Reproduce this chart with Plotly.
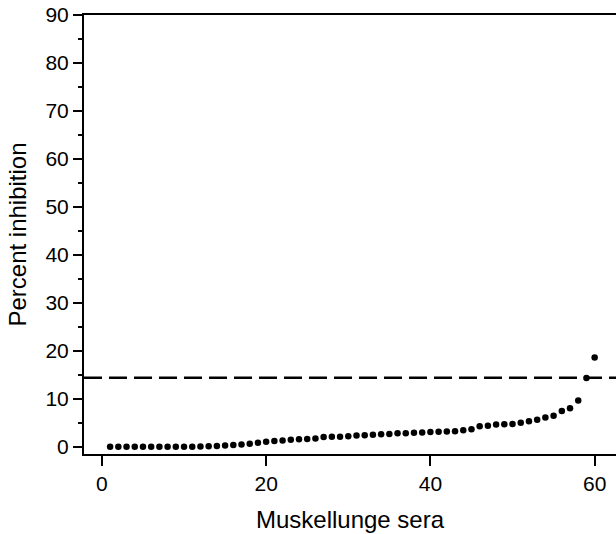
import plotly.graph_objects as go

sera_index = list(range(1, 61))
percent_inhibition = [
    0.0, 0.0, 0.0, 0.0, 0.0, 0.0, 0.0, 0.0, 0.0, 0.0,
    0.0, 0.05, 0.1, 0.15, 0.25, 0.35, 0.45, 0.6, 0.8, 1.05,
    1.2, 1.3, 1.45, 1.55, 1.6, 1.7, 2.0, 2.1, 2.1, 2.2,
    2.35, 2.4, 2.5, 2.6, 2.65, 2.8, 2.8, 2.9, 2.95, 3.05,
    3.1, 3.15, 3.2, 3.45, 3.65, 4.25, 4.35, 4.65, 4.7, 4.75,
    5.0, 5.3, 5.6, 6.1, 6.45, 7.45, 8.0, 9.65, 14.3, 18.6,
]
cutoff = 14.4
x_ticks = [0, 20, 40, 60]
y_ticks = [0, 10, 20, 30, 40, 50, 60, 70, 80, 90]
y_minor = [5, 15, 25, 35, 45, 55, 65, 75, 85]

FONT = "Liberation Sans, Arial, Helvetica, sans-serif"

fig = go.Figure()
fig.add_trace(go.Scatter(
    x=sera_index, y=percent_inhibition, mode="markers",
    marker=dict(color="black", size=6.5, line=dict(width=0)),
    showlegend=False, cliponaxis=False,
))
fig.add_hline(y=cutoff, line=dict(color="black", width=2.5, dash="18px,7px"))

fig.update_layout(
    width=616, height=534,
    margin=dict(l=83.5, r=0, t=15.3, b=80),
    paper_bgcolor="white", plot_bgcolor="white",
    font=dict(family=FONT, color="black"),
    xaxis=dict(
        range=[-2.18, 62.6], tickvals=x_ticks, ticktext=[str(v) for v in x_ticks],
        ticks="outside", ticklen=10, tickwidth=2, tickcolor="black",
        showline=True, linecolor="black", linewidth=2, mirror=True,
        showgrid=False, zeroline=False,
        tickfont=dict(size=21, family=FONT),
        title=dict(text="Muskellunge sera", font=dict(size=24, family=FONT), standoff=17),
    ),
    yaxis=dict(
        range=[-1.52, 90], tickvals=y_ticks, ticktext=[str(v) for v in y_ticks],
        ticks="outside", ticklen=9, tickwidth=2, tickcolor="black",
        showline=True, linecolor="black", linewidth=2, mirror=False,
        showgrid=False, zeroline=False,
        tickfont=dict(size=21, family=FONT),
        minor=dict(tickvals=y_minor, ticks="outside",
                   ticklen=4, tickwidth=2, tickcolor="black", showgrid=False),
        title=dict(text="Percent inhibition", font=dict(size=24, family=FONT), standoff=12),
    ),
)

fig.write_html("out.html")
